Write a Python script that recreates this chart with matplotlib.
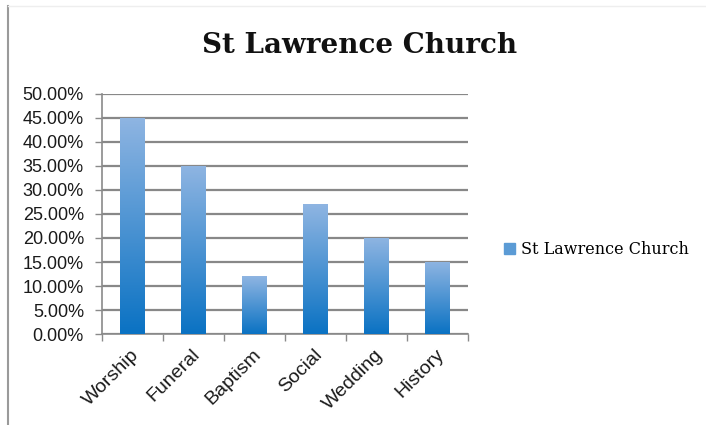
import matplotlib.pyplot as plt
import numpy as np
from matplotlib.colors import LinearSegmentedColormap
from matplotlib.ticker import FuncFormatter, MultipleLocator

# --- DATA ---
categories = ["Worship", "Funeral", "Baptism", "Social", "Wedding", "History"]
values = [0.45, 0.35, 0.12, 0.27, 0.20, 0.15]
series_name = "St Lawrence Church"
title = "St Lawrence Church"

# gradient: dark blue at bottom, light blue at top
grad = LinearSegmentedColormap.from_list("bar_grad", ["#0A72C3", "#8FB5E2"])

fig = plt.figure(figsize=(7.06, 4.25), dpi=100)
ax = fig.add_axes([0.1445, 0.214, 0.518, 0.565])

x = np.arange(len(categories))
bars = ax.bar(x, values, width=0.4, color="none", edgecolor="none", zorder=3)

# fill each bar with a vertical gradient
g = np.linspace(0, 1, 256).reshape(-1, 1)
for b in bars:
    x0, y0 = b.get_x(), b.get_y()
    im = ax.imshow(g, cmap=grad, origin="lower", aspect="auto",
                   extent=[x0, x0 + b.get_width(), y0, y0 + b.get_height()],
                   zorder=3)
    im.set_clip_path(b)

ax.set_xlim(-0.5, len(categories) - 0.5)
ax.set_ylim(0, 0.5)
ax.yaxis.set_major_locator(MultipleLocator(0.05))
ax.yaxis.set_major_formatter(FuncFormatter(lambda v, p: f"{v * 100:.2f}%"))
ax.grid(axis="y", color="#888888", linewidth=1.6, zorder=0)

# category boundary ticks on x axis
ax.set_xticks(np.arange(-0.5, len(categories), 1.0), minor=False)
ax.set_xticklabels([])
ax.tick_params(axis="x", direction="out", length=5, color="#8a8a8a", width=1)
ax.tick_params(axis="y", direction="out", length=5, color="#8a8a8a", width=1,
               labelsize=13, labelcolor="#1a1a1a", pad=8)
for t in ax.get_yticklabels():
    t.set_family("Liberation Sans")

for i, c in enumerate(categories):
    ax.text(i - 0.03, -0.025, c, rotation=45, ha="right", va="top",
            fontsize=14, color="#1a1a1a", family="Liberation Sans",
            rotation_mode="anchor")

for s in ["top", "right"]:
    ax.spines[s].set_visible(False)
ax.spines["left"].set_color("#8a8a8a")
ax.spines["bottom"].set_color("#8a8a8a")
ax.spines["left"].set_linewidth(1.2)
ax.spines["bottom"].set_linewidth(1.2)

fig.text(0.51, 0.893, title, ha="center", va="center", fontsize=20,
         fontweight="bold", family="DejaVu Serif", color="#111111")

# legend
leg_patch = plt.Rectangle((0, 0), 1, 1, color="#5B9BD5")
fig.legend([leg_patch], [series_name], loc="center left",
           bbox_to_anchor=(0.693, 0.412), frameon=False,
           prop={"family": "DejaVu Serif", "size": 11.5},
           handlelength=0.7, handleheight=0.7, handletextpad=0.4)

# outer frame lines (left and top edge of the chart area)
fig.add_artist(plt.Line2D([0.011, 0.011], [0, 0.986], color="#9a9a9a",
                          linewidth=1.5, transform=fig.transFigure))
fig.add_artist(plt.Line2D([0.011, 1.0], [0.986, 0.986], color="#eeeeee",
                          linewidth=1.0, transform=fig.transFigure))

plt.savefig("out.png", dpi=100)
